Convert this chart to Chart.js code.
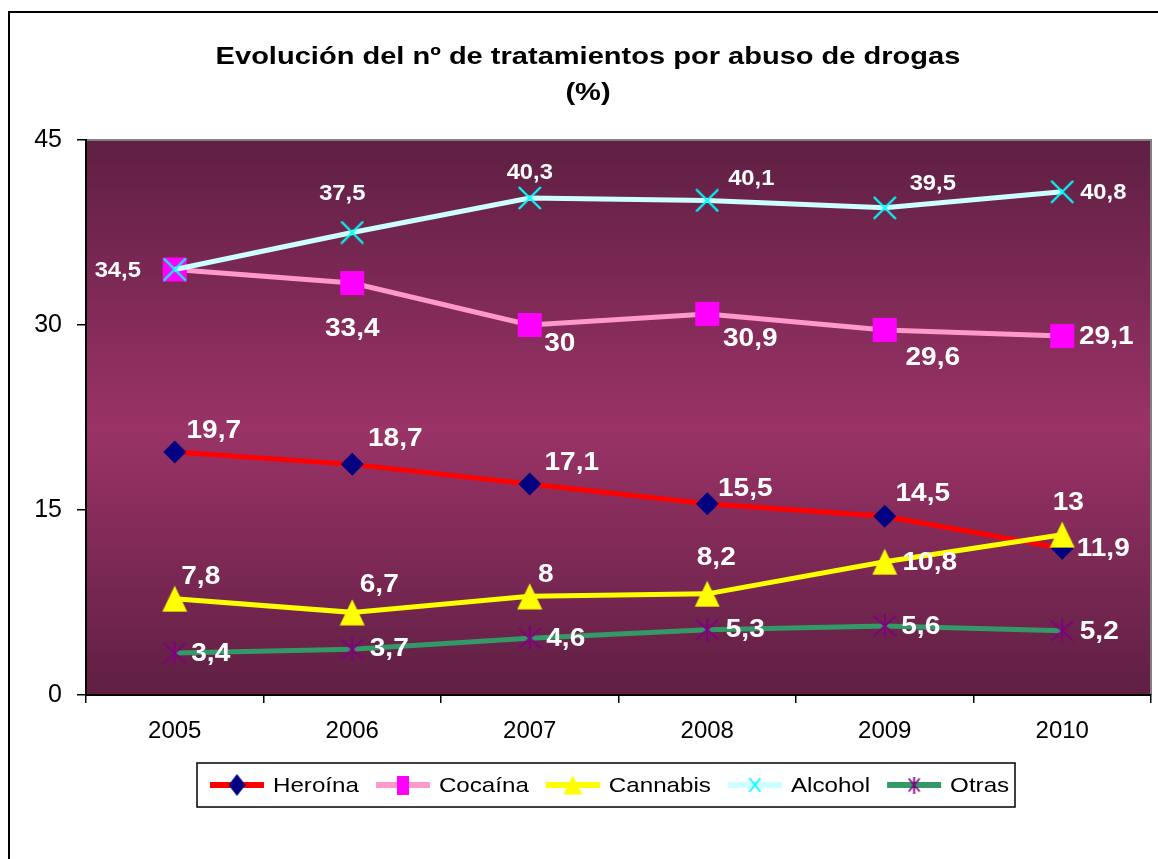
<!DOCTYPE html>
<html>
<head>
<meta charset="utf-8">
<script src="https://cdn.jsdelivr.net/npm/chart.js@4.4.1/dist/chart.umd.min.js"></script>
<style>
  html, body { margin: 0; padding: 0; background: #fff; }
  canvas { display: block; }
</style>
</head>
<body>
<canvas id="c" width="1158" height="859"></canvas>
<script>
// ---- data ----
const categories = ['2005', '2006', '2007', '2008', '2009', '2010'];
const heroina  = [19.7, 18.7, 17.1, 15.5, 14.5, 11.9];
const cocaina  = [34.5, 33.4, 30, 30.9, 29.6, 29.1];
const cannabis = [7.8, 6.7, 8, 8.2, 10.8, 13];
const alcohol  = [34.5, 37.5, 40.3, 40.1, 39.5, 40.8];
const otras    = [3.4, 3.7, 4.6, 5.3, 5.6, 5.2];
const yTicks   = [0, 15, 30, 45];
const seriesNames = ['Heroína', 'Cocaína', 'Cannabis', 'Alcohol', 'Otras'];
const titleLines = ['Evolución del nº de tratamientos por abuso de drogas', '(%)'];

// ---- label placement (offsets from the point, px) ----
const labelOffsets = [
  [[39,-22],[43,-26],[42,-22],[38,-16],[38,-23],[41,0]],
  [null,[0,45],[30,18],[43,24],[48,27],[44,0]],
  [[26,-23],[27,-28],[16,-22],[9,-37],[45,0],[6,-33]],
  [[-57,0],[-10,-40],[0,-26],[44,-22],[48,-25],[41,0]],
  [[36,0],[37,-1],[36,0],[38,-1],[36,0],[37,0]]
];
const labelFontSize = [25, 25, 25, 22, 25];

const FONT = "'Liberation Sans', Arial, sans-serif";

// ---- marker images ----
function mk(w, h, draw) {
  const c = document.createElement('canvas');
  c.width = w; c.height = h;
  draw(c.getContext('2d'), w, h);
  return c;
}
function triangleImg(w, h) {
  return mk(w, h, (g) => {
    g.fillStyle = '#FFFF00';
    g.beginPath(); g.moveTo(w/2, 0.5); g.lineTo(w - 0.5, h - 0.5); g.lineTo(0.5, h - 0.5); g.closePath(); g.fill();
  });
}
function crossImg(w, h, lw) {
  return mk(w, h, (g) => {
    g.strokeStyle = '#00FFFF'; g.lineWidth = lw;
    g.beginPath(); g.moveTo(1, 1); g.lineTo(w - 1, h - 1); g.moveTo(w - 1, 1); g.lineTo(1, h - 1); g.stroke();
  });
}
function asteriskImg(w, h, lw) {
  return mk(w, h, (g) => {
    g.strokeStyle = '#800080'; g.lineWidth = lw;
    g.beginPath();
    g.moveTo(1, 2); g.lineTo(w - 1, h - 2);
    g.moveTo(w - 1, 2); g.lineTo(1, h - 2);
    g.moveTo(w/2, 0); g.lineTo(w/2, h);
    g.stroke();
  });
}
function diamondImg(w, h) {
  return mk(w, h, (g) => {
    g.fillStyle = '#000080';
    g.beginPath(); g.moveTo(w/2, 0); g.lineTo(w, h/2); g.lineTo(w/2, h); g.lineTo(0, h/2); g.closePath(); g.fill();
  });
}
function rectImg(w, h) {
  return mk(w, h, (g) => { g.fillStyle = '#FF00FF'; g.fillRect(0, 0, w, h); });
}

const markerTri = triangleImg(26, 27);
const markerCross = crossImg(24, 24, 2.2);
const markerStar = asteriskImg(24, 24, 2);

const legendMarkers = [diamondImg(17, 22), rectImg(12, 19), triangleImg(20, 20), crossImg(13, 16, 1.8), asteriskImg(13, 17, 1.8)];
const lineColors = ['#FF0000', '#FF99CC', '#FFFF00', '#CCFFFF', '#339966'];

// ---- plugin: background, borders, title, labels, legend ----
const decor = {
  id: 'decor',
  beforeDraw(chart) {
    const { ctx, chartArea: a } = chart;
    ctx.save();
    ctx.fillStyle = '#fff';
    ctx.fillRect(0, 0, chart.width, chart.height);
    const gr = ctx.createLinearGradient(0, a.top, 0, a.bottom);
    gr.addColorStop(0, '#5f1f43');
    gr.addColorStop(0.52, '#9a3366');
    gr.addColorStop(1, '#5f1f43');
    ctx.fillStyle = gr;
    ctx.fillRect(a.left, a.top, a.right - a.left, a.bottom - a.top);
    ctx.strokeStyle = '#808080';
    ctx.lineWidth = 2;
    ctx.beginPath();
    ctx.moveTo(a.left, a.top); ctx.lineTo(a.right, a.top); ctx.lineTo(a.right, a.bottom);
    ctx.stroke();
    ctx.restore();
  },
  afterDatasetsDraw(chart) {
    const { ctx } = chart;
    const xs = chart.scales.x, ys = chart.scales.y;
    ctx.save();
    ctx.fillStyle = '#fff';
    ctx.textAlign = 'center';
    ctx.textBaseline = 'middle';
    chart.data.datasets.forEach((ds, di) => {
      ctx.font = 'bold ' + labelFontSize[di] + 'px ' + FONT;
      const sx = di === 3 ? 1.08 : 1.12;
      ds.data.forEach((v, i) => {
        const off = labelOffsets[di][i];
        if (!off) return;
        const px = xs.getPixelForValue(i) + off[0];
        const py = ys.getPixelForValue(v) + off[1];
        ctx.save();
        ctx.translate(px, py);
        ctx.scale(sx, 1);
        ctx.fillText(String(v).replace('.', ','), 0, 1);
        ctx.restore();
      });
    });
    ctx.restore();
  },
  afterDraw(chart) {
    const { ctx } = chart;
    ctx.save();
    // outer frame
    ctx.strokeStyle = '#000';
    ctx.lineWidth = 2;
    ctx.strokeRect(9, 12, 1170, 880);

    // title
    ctx.fillStyle = '#000';
    ctx.textAlign = 'center';
    ctx.textBaseline = 'middle';
    ctx.font = 'bold 24px ' + FONT;
    const ty = [57, 93];
    titleLines.forEach((t, k) => {
      ctx.save();
      ctx.translate(588, ty[k]);
      ctx.scale(1.21, 1);
      ctx.fillText(t, 0, 0);
      ctx.restore();
    });

    // legend
    const lx0 = 197, ly0 = 763, lw = 818, lh = 44;
    ctx.lineWidth = 1.5;
    ctx.strokeStyle = '#000';
    ctx.strokeRect(lx0, ly0, lw, lh);
    const cy = ly0 + lh / 2;
    ctx.font = '21px ' + FONT;
    ctx.textAlign = 'left';
    let x = 210;
    seriesNames.forEach((name, k) => {
      ctx.strokeStyle = lineColors[k];
      ctx.lineWidth = 6;
      ctx.beginPath(); ctx.moveTo(x, cy); ctx.lineTo(x + 54, cy); ctx.stroke();
      const m = legendMarkers[k];
      ctx.drawImage(m, x + 27 - m.width / 2, cy - m.height / 2);
      const tx = x + 63;
      ctx.save();
      ctx.translate(tx, cy + 1);
      ctx.scale(1.15, 1);
      ctx.fillStyle = '#000';
      ctx.fillText(name, 0, 0);
      const w = ctx.measureText(name).width * 1.15;
      ctx.restore();
      x = tx + w + 17;
    });
    ctx.restore();
  }
};

const mkDs = (label, data, color, extra) => Object.assign({
  label, data,
  borderColor: color,
  backgroundColor: color,
  borderWidth: 5,
  tension: 0,
  fill: false,
  pointBorderWidth: 0,
  pointHoverRadius: 0
}, extra);

const datasets = [
  mkDs(seriesNames[0], heroina, '#FF0000', { order: 5, pointStyle: 'rectRot', pointRadius: 11.5, pointBackgroundColor: '#000080', pointBorderColor: '#000080' }),
  mkDs(seriesNames[1], cocaina, '#FF99CC', { order: 4, pointStyle: 'rect', pointRadius: 17, pointBackgroundColor: '#FF00FF', pointBorderColor: '#FF00FF' }),
  mkDs(seriesNames[2], cannabis, '#FFFF00', { order: 3, pointStyle: markerTri, pointRadius: 13 }),
  mkDs(seriesNames[3], alcohol, '#CCFFFF', { order: 2, pointStyle: markerCross, pointRadius: 12 }),
  mkDs(seriesNames[4], otras, '#339966', { order: 1, pointStyle: markerStar, pointRadius: 12 })
];

new Chart(document.getElementById('c'), {
  type: 'line',
  data: { labels: categories, datasets },
  options: {
    responsive: false,
    devicePixelRatio: 1,
    animation: false,
    events: [],
    layout: { autoPadding: false, padding: { top: 140, right: 7, bottom: 0, left: 0 } },
    plugins: { legend: { display: false }, title: { display: false }, tooltip: { enabled: false } },
    scales: {
      x: {
        type: 'category',
        offset: true,
        grid: { offset: true, drawOnChartArea: false, drawTicks: true, tickLength: 8, color: '#000', lineWidth: 1.5 },
        border: { display: true, color: '#000', width: 2 },
        ticks: { color: '#000', font: { family: FONT, size: 24 }, padding: 14, maxRotation: 0 },
        afterFit(s) { s.height = 164; s.paddingLeft = 0; s.paddingRight = 0; }
      },
      y: {
        min: 0, max: 45,
        afterBuildTicks(s) { s.ticks = yTicks.map(v => ({ value: v })); },
        grid: { drawOnChartArea: false, drawTicks: true, tickLength: 9, color: '#000', lineWidth: 1.5 },
        border: { display: true, color: '#000', width: 2 },
        ticks: { color: '#000', font: { family: FONT, size: 25 }, padding: 15 },
        afterFit(s) { s.width = 86; s.paddingTop = 0; s.paddingBottom = 0; }
      }
    }
  },
  plugins: [decor]
});
</script>
</body>
</html>
